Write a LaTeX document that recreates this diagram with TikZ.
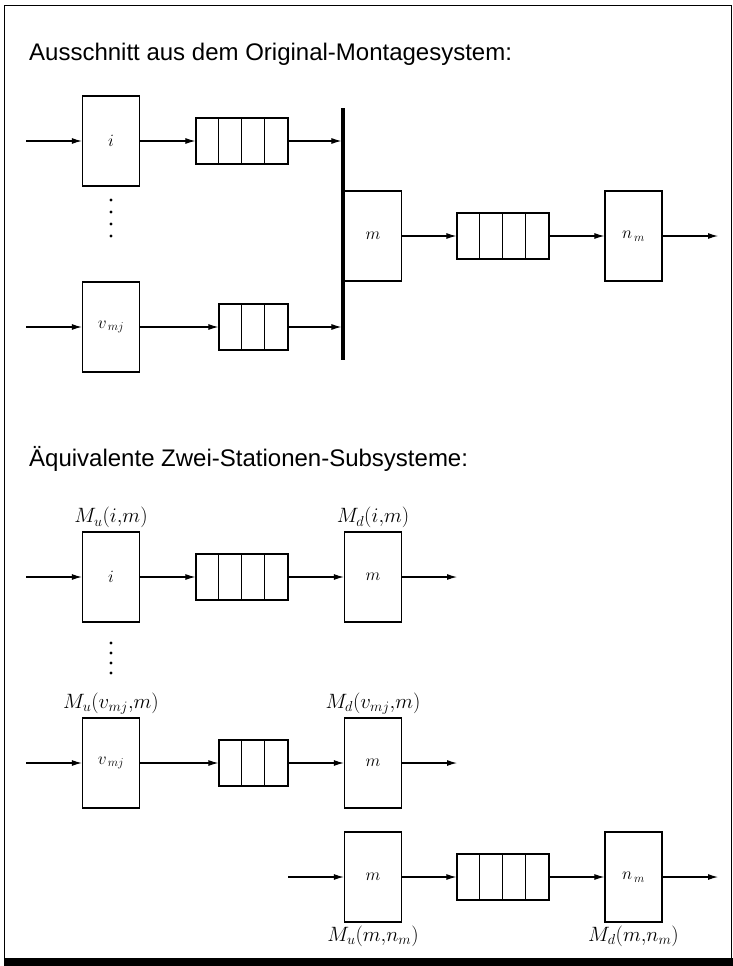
\documentclass[tikz,border=0pt]{standalone}
\usepackage{fontspec}
\newfontfamily\titlefont{Liberation Sans}
\usetikzlibrary{arrows.meta,positioning}

\tikzset{
  station/.style={draw, line width=1.3pt, minimum width=57pt, minimum height=90pt,
    inner sep=0pt, font=\fontsize{17.5}{20}\selectfont},
  buffer/.style={draw, line width=1.3pt, minimum height=46pt, inner sep=0pt},
  flow/.style={line width=1.1pt, -{Latex[length=10pt,width=6pt]}},
  mlabel/.style={inner sep=1pt, font=\fontsize{20.5}{24}\selectfont},
  heading/.style={anchor=base west, inner sep=0pt,
    font=\titlefont\fontsize{24}{28}\selectfont}
}
% dividing lines of a buffer, 23pt apart
\newcommand{\cells}[2]{%
  \foreach \k in {1,...,#2}
    \draw[line width=1.3pt] ([xshift=\k*23pt]#1.north west) -- ([xshift=\k*23pt]#1.south west);}

\begin{document}
\begin{tikzpicture}[x=1pt,y=-1pt]
\useasboundingbox (0,0) rectangle (733,966);
\draw[line width=1pt] (4,6) rectangle (731,960);
\fill (4,958) rectangle (733,966);

% original system
\node[heading] (head1) at (29,61) {Ausschnitt aus dem Original-Montagesystem:};
\node[station] (i) at (111,141) {$i$};
\node[buffer, minimum width=92pt] (q1) at (242,141) {};
\cells{q1}{3}
\node[station] (v) at (111,327) {$v_{\,mj}$};
\node[buffer, minimum width=69pt] (q2) at (253.5,327) {};
\cells{q2}{2}
\foreach \y in {200,212,224,236} \fill (111,\y) circle (1.7);
\coordinate (bartop) at (343,108);
\coordinate (barbot) at (343,360);
\draw[line width=3.2pt] (bartop) -- (barbot);
\node[station] (m) at (373,236) {$m$};
\node[buffer, minimum width=92pt] (q3) at (503,236) {};
\cells{q3}{3}
\node[station] (n) at (633.5,236) {$n_{\,m}$};
\coordinate (iin) at (26,141);
\coordinate (vin) at (26,327);
\coordinate (nout) at (718,236);
\draw[flow] (iin) -- (i);
\draw[flow] (i) -- (q1);
\draw[flow, shorten >=1.6pt] (q1) -- (q1 -| bartop);
\draw[flow] (vin) -- (v);
\draw[flow] (v) -- (q2);
\draw[flow, shorten >=1.6pt] (q2) -- (q2 -| bartop);
\draw[flow] (m) -- (q3);
\draw[flow] (q3) -- (n);
\draw[flow] (n) -- (nout);

% two-station subsystems
\node[heading] (head2) at (29,466) {Äquivalente Zwei-Stationen-Subsysteme:};
\node[station] (ia) at (111,577) {$i$};
\node[buffer, minimum width=92pt] (qa) at (242,577) {};
\cells{qa}{3}
\node[station] (ma) at (373,577) {$m$};
\node[mlabel, above=2pt of ia] (lia) {$M_u(i{,}m)$};
\node[mlabel, above=2pt of ma] (lma) {$M_d(i{,}m)$};
\foreach \y in {643,653,663,673} \fill (111,\y) circle (1.7);
\node[station] (vb) at (111,763) {$v_{\,mj}$};
\node[buffer, minimum width=69pt] (qb) at (253.5,763) {};
\cells{qb}{2}
\node[station] (mb) at (373,763) {$m$};
\node[mlabel, above=2pt of vb] (lvb) {$M_u(v_{mj}{,}m)$};
\node[mlabel, above=2pt of mb] (lmb) {$M_d(v_{mj}{,}m)$};
\node[station] (mc) at (373,877) {$m$};
\node[buffer, minimum width=92pt] (qc) at (503,877) {};
\cells{qc}{3}
\node[station] (nc) at (633.5,877) {$n_{\,m}$};
\node[mlabel, below=2pt of mc] (lmc) {$M_u(m{,}n_m)$};
\node[mlabel, below=2pt of nc] (lnc) {$M_d(m{,}n_m)$};
\coordinate (iain) at (26,577);
\coordinate (maout) at (457,577);
\coordinate (vbin) at (26,763);
\coordinate (mbout) at (457,763);
\coordinate (mcin) at (288,877);
\coordinate (ncout) at (718,877);
\draw[flow] (iain) -- (ia);
\draw[flow] (ia) -- (qa);
\draw[flow] (qa) -- (ma);
\draw[flow] (ma) -- (maout);
\draw[flow] (vbin) -- (vb);
\draw[flow] (vb) -- (qb);
\draw[flow] (qb) -- (mb);
\draw[flow] (mb) -- (mbout);
\draw[flow] (mcin) -- (mc);
\draw[flow] (mc) -- (qc);
\draw[flow] (qc) -- (nc);
\draw[flow] (nc) -- (ncout);
\end{tikzpicture}
\end{document}
